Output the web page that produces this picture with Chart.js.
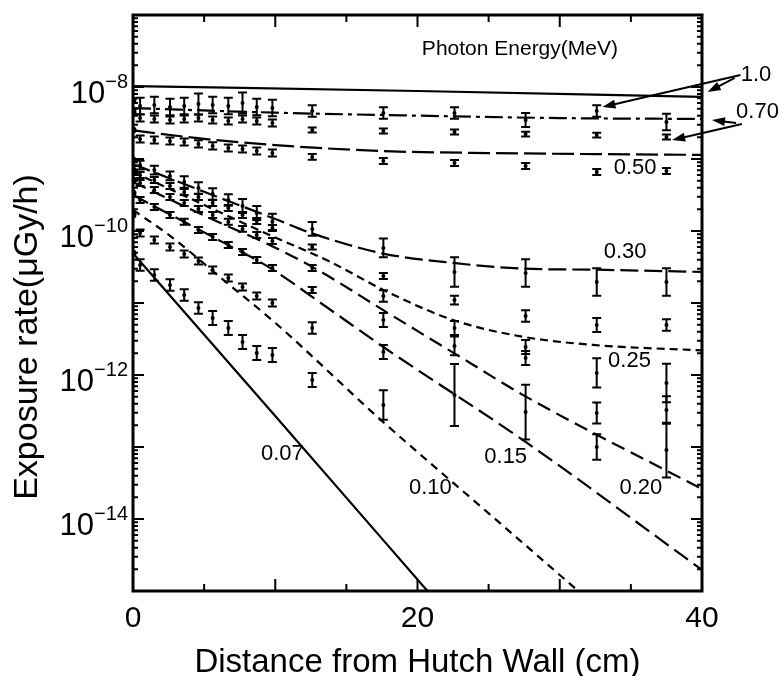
<!DOCTYPE html>
<html>
<head>
<meta charset="utf-8">
<script src="https://cdn.jsdelivr.net/npm/chart.js@4.4.1/dist/chart.umd.min.js"></script>
<style>
  html, body { margin: 0; padding: 0; background: #fff; }
  #wrap { width: 780px; height: 676px; }
</style>
</head>
<body>
<div id="wrap"><canvas id="chart" width="780" height="676"></canvas></div>
<script>
// calculated curves (distance cm / exposure rate uGy/h)
const calc100Dist = [0, 20, 40];
const calc100Rate = [1.03e-8, 8.8e-9, 7.3e-9];
const calc070Dist = [0, 10, 20, 30, 40];
const calc070Rate = [5.1e-9, 4.4e-9, 4.0e-9, 3.7e-9, 3.6e-9];
const calc050Dist = [0, 5, 10, 17.5, 25, 40];
const calc050Rate = [2.5e-9, 1.9e-9, 1.56e-9, 1.29e-9, 1.21e-9, 1.14e-9];
const calc030Dist = [0, 5, 10, 12.5, 17.5, 22.5, 27.5, 32.5, 40];
const calc030Rate = [8.5e-10, 3.5e-10, 1.47e-10, 9.4e-11, 4.9e-11, 3.6e-11, 3.0e-11, 2.9e-11, 2.7e-11];
const calc025Dist = [0, 5, 9.6, 13.9, 17.6, 22.5, 27.4, 32.5, 40];
const calc025Rate = [6.6e-10, 2.3e-10, 8.8e-11, 3.7e-11, 1.52e-11, 5.8e-12, 3.4e-12, 2.6e-12, 2.2e-12];
const calc020Dist = [0, 6, 9.6, 12.7, 17.9, 23.7, 27.4, 40];
const calc020Rate = [4.8e-10, 1.33e-10, 6.4e-11, 3.1e-11, 7.3e-12, 1.47e-12, 5.3e-13, 2.6e-14];
const calc015Dist = [0, 6.3, 9.6, 13.6, 17.6, 27.7, 40];
const calc015Rate = [3.16e-10, 7.0e-11, 3.1e-11, 8.8e-12, 2.45e-12, 1.14e-13, 1.96e-15];
const calc010Dist = [0, 2.7, 6.1, 10, 17.4, 25, 31.3];
const calc010Rate = [1.96e-10, 8.3e-11, 2.3e-11, 5.3e-12, 2.4e-13, 1.2e-14, 1e-15];
const calc007Dist = [0, 10, 20.7];
const calc007Rate = [4.9e-11, 2.7e-13, 1e-15];

// measured points: distance, rate, error factor (bar spans rate/f .. rate*f)
const measDist = [0, 0.5, 1.5, 2.6, 3.6, 4.6, 5.6, 6.7, 7.7, 8.7, 9.8, 12.6, 17.6, 22.6, 27.6, 32.6, 37.5];
const meas100Rate = [6.6e-9, 5.45e-9, 5.62e-9, 5.27e-9, 5.45e-9, 5.81e-9, 5.62e-9, 5.45e-9, 5.99e-9, 5.27e-9, 5.11e-9, 4.64e-9, 4.35e-9, 4.35e-9, 3.48e-9, 4.64e-9, 3.26e-9];
const meas100Err = [1, 1.3, 1.3, 1.3, 1.3, 1.4, 1.3, 1.3, 1.4, 1.3, 1.3, 1.2, 1.2, 1.2, 1.25, 1.2, 1.3];
const meas070Rate = [4.5e-9, 3.71e-9, 3.59e-9, 3.48e-9, 3.59e-9, 3.71e-9, 3.48e-9, 3.37e-9, 3.59e-9, 3.37e-9, 3.16e-9, 2.53e-9, 2.45e-9, 2.37e-9, 2.22e-9, 2.15e-9, 2.02e-9];
const meas070Err = [1, 1.12, 1.12, 1.12, 1.12, 1.12, 1.12, 1.12, 1.12, 1.12, 1.12, 1.08, 1.08, 1.08, 1.08, 1.08, 1.08];
const meas050Rate = [2.53e-9, 1.9e-9, 1.84e-9, 1.78e-9, 1.72e-9, 1.62e-9, 1.52e-9, 1.42e-9, 1.38e-9, 1.29e-9, 1.21e-9, 1.07e-9, 9.38e-10, 8.8e-10, 7.99e-10, 6.6e-10, 6.81e-10];
const meas050Err = [1, 1.12, 1.12, 1.12, 1.12, 1.12, 1.12, 1.12, 1.12, 1.12, 1.12, 1.1, 1.1, 1.1, 1.1, 1.1, 1.1];
const meas030Rate = [9.68e-10, 8.25e-10, 7.03e-10, 5.81e-10, 4.79e-10, 3.95e-10, 3.26e-10, 2.69e-10, 2.22e-10, 1.78e-10, 1.34e-10, 1.07e-10, 5.81e-11, 2.69e-11, 2.61e-11, 1.96e-11, 1.96e-11];
const meas030Err = [1, 1.15, 1.15, 1.15, 1.2, 1.2, 1.2, 1.2, 1.25, 1.25, 1.3, 1.25, 1.35, 1.6, 1.55, 1.55, 1.55];
const meas025Rate = [7.03e-10, 5.99e-10, 5.11e-10, 4.22e-10, 3.48e-10, 2.96e-10, 2.45e-10, 2.08e-10, 1.67e-10, 1.38e-10, 1.1e-10, 5.99e-11, 2.37e-11, 1.1e-11, 6.6e-12, 4.95e-12, 4.95e-12];
const meas025Err = [1, 1.1, 1.1, 1.1, 1.1, 1.1, 1.1, 1.1, 1.1, 1.1, 1.1, 1.08, 1.1, 1.15, 1.2, 1.25, 1.2];
const meas020Rate = [5.11e-10, 4.64e-10, 3.71e-10, 2.96e-10, 2.45e-10, 2.02e-10, 1.67e-10, 1.34e-10, 1.07e-10, 8.8e-11, 7.26e-11, 3.06e-11, 1.25e-11, 4.5e-12, 2.45e-12, 1.07e-12, 7.74e-13];
const meas020Err = [1, 1.1, 1.1, 1.1, 1.1, 1.1, 1.1, 1.1, 1.1, 1.1, 1.1, 1.1, 1.2, 1.25, 1.25, 1.6, 1.85];
const meas015Rate = [3.37e-10, 2.69e-10, 2.15e-10, 1.67e-10, 1.34e-10, 1.03e-10, 8.25e-11, 6.39e-11, 5.11e-11, 3.95e-11, 3.06e-11, 1.52e-11, 5.81e-12, 2.53e-12, 1.72e-12, 2.96e-13, 3.26e-13];
const meas015Err = [1, 1.1, 1.1, 1.1, 1.1, 1.1, 1.1, 1.1, 1.1, 1.1, 1.1, 1.1, 1.25, 1.35, 1.25, 1.4, 1.55];
const meas010Rate = [1.67e-10, 9.38e-11, 7.5e-11, 5.99e-11, 4.79e-11, 3.83e-11, 2.87e-11, 2.22e-11, 1.67e-11, 1.25e-11, 1.0e-11, 4.5e-12, 2.08e-12, 5.27e-13, 3.06e-13, 1.0e-13, 9.08e-14];
const meas010Err = [1, 1.12, 1.12, 1.12, 1.12, 1.12, 1.12, 1.12, 1.12, 1.12, 1.12, 1.2, 1.25, 2.7, 2.4, 1.5, 2.4];
const meas007Rate = [4.95e-11, 3.37e-11, 2.45e-11, 1.78e-11, 1.29e-11, 8.52e-12, 6.19e-12, 4.5e-12, 2.87e-12, 2.02e-12, 1.9e-12, 8.52e-13, 3.83e-13, null, null, null, null];
const meas007Err = [1, 1.2, 1.2, 1.2, 1.2, 1.2, 1.25, 1.25, 1.25, 1.25, 1.25, 1.25, 1.6, 1, 1, 1, 1];

// y tick labels (decades)
const yLabelExp = [-8, -10, -12, -14];

// annotations
const annoText = ['Photon Energy(MeV)', '1.0', '0.70', '0.50', '0.30', '0.25', '0.20', '0.15', '0.10', '0.07'];
const annoDist = [27.2, 43.8, 43.9, 35.3, 34.6, 34.9, 35.7, 26.2, 20.9, 10.5];
const annoRate = [3.37e-8, 1.47e-8, 4.5e-9, 7.5e-10, 5.11e-11, 1.57e-12, 2.69e-14, 7.26e-14, 2.69e-14, 7.99e-14];
const arrowTailDist = [42.7, 42.3, 42.8, 42.4];
const arrowTailRate = [1.47e-8, 1.34e-8, 3.06e-9, 3.16e-9];
const arrowTipDist = [33.0, 40.4, 37.9, 40.7];
const arrowTipRate = [5.27e-9, 8.52e-9, 1.84e-9, 3.48e-9];

const FONT = '"Liberation Sans", Arial, Helvetica, sans-serif';

function pts(xs, ys) {
    return xs.map((x, i) => ({ x: x, y: ys[i] }));
}

const calcSets = [
    [calc100Dist, calc100Rate, []],
    [calc070Dist, calc070Rate, [18, 5, 4, 5]],
    [calc050Dist, calc050Rate, [22, 6]],
    [calc030Dist, calc030Rate, [18, 6]],
    [calc025Dist, calc025Rate, [8, 5]],
    [calc020Dist, calc020Rate, [14, 7]],
    [calc015Dist, calc015Rate, [17, 7]],
    [calc010Dist, calc010Rate, [8, 6]],
    [calc007Dist, calc007Rate, []]
];
const measSets = [
    [meas100Rate, meas100Err], [meas070Rate, meas070Err], [meas050Rate, meas050Err],
    [meas030Rate, meas030Err], [meas025Rate, meas025Err], [meas020Rate, meas020Err],
    [meas015Rate, meas015Err], [meas010Rate, meas010Err], [meas007Rate, meas007Err]
];

const datasets = [];
calcSets.forEach(function (c) {
    datasets.push({
        data: pts(c[0], c[1]),
        showLine: true,
        borderColor: '#000',
        borderWidth: 2.2,
        borderDash: c[2],
        pointRadius: 0,
        cubicInterpolationMode: 'monotone'
    });
});
measSets.forEach(function (m) {
    datasets.push({
        data: pts(measDist, m[0]),
        errors: m[1],
        showLine: false,
        backgroundColor: '#000',
        borderColor: '#000',
        pointRadius: function (ctx) { return ctx.raw && ctx.raw.x === 0 ? 3.5 : 2; },
        pointBorderWidth: 0
    });
});

function arrow(ctx, x1, y1, x2, y2) {
    const ang = Math.atan2(y2 - y1, x2 - x1);
    ctx.beginPath();
    ctx.moveTo(x1, y1);
    ctx.lineTo(x2 - 8 * Math.cos(ang), y2 - 8 * Math.sin(ang));
    ctx.stroke();
    ctx.beginPath();
    ctx.moveTo(x2, y2);
    ctx.lineTo(x2 - 13 * Math.cos(ang) + 4.5 * Math.sin(ang), y2 - 13 * Math.sin(ang) - 4.5 * Math.cos(ang));
    ctx.lineTo(x2 - 13 * Math.cos(ang) - 4.5 * Math.sin(ang), y2 - 13 * Math.sin(ang) + 4.5 * Math.cos(ang));
    ctx.closePath();
    ctx.fill();
}

const paperPlugin = {
    id: 'paper',
    afterDatasetsDraw(chart) {
        const ctx = chart.ctx;
        const a = chart.chartArea;
        const x = chart.scales.x, y = chart.scales.y;
        ctx.save();
        ctx.strokeStyle = '#000';
        ctx.fillStyle = '#000';

        // error bars
        ctx.lineWidth = 2;
        chart.data.datasets.forEach(function (ds) {
            if (!ds.errors) return;
            ds.data.forEach(function (p, i) {
                const f = ds.errors[i];
                if (p.y == null || f <= 1) return;
                const px = x.getPixelForValue(p.x);
                const yt = y.getPixelForValue(p.y * f);
                const yb = y.getPixelForValue(p.y / f);
                ctx.beginPath();
                ctx.moveTo(px, yt); ctx.lineTo(px, yb);
                ctx.moveTo(px - 4.5, yt); ctx.lineTo(px + 4.5, yt);
                ctx.moveTo(px - 4.5, yb); ctx.lineTo(px + 4.5, yb);
                ctx.stroke();
            });
        });

        // frame
        ctx.lineWidth = 3;
        ctx.strokeRect(a.left, a.top, a.right - a.left, a.bottom - a.top);

        // ticks
        ctx.lineWidth = 2;
        ctx.beginPath();
        for (let v = 5; v < 40; v += 5) {
            const px = x.getPixelForValue(v);
            const len = v % 10 === 0 ? 12 : 7;
            ctx.moveTo(px, a.bottom); ctx.lineTo(px, a.bottom - len);
            ctx.moveTo(px, a.top); ctx.lineTo(px, a.top + len);
        }
        for (let e = -15; e < -7; e++) {
            for (let k = 1; k < 10; k++) {
                const py = y.getPixelForValue(k * Math.pow(10, e));
                const len = k === 1 ? 11 : 5;
                ctx.moveTo(a.left, py); ctx.lineTo(a.left + len, py);
                ctx.moveTo(a.right, py); ctx.lineTo(a.right - len, py);
            }
        }
        ctx.stroke();

        // y tick labels with superscript exponent
        ctx.textAlign = 'right';
        ctx.textBaseline = 'alphabetic';
        yLabelExp.forEach(function (e) {
            const py = y.getPixelForValue(Math.pow(10, e));
            const exp = '\u2212' + Math.abs(e);
            ctx.font = '20px ' + FONT;
            const w = ctx.measureText(exp).width;
            ctx.fillText(exp, a.left - 5, py + 1);
            ctx.font = '31px ' + FONT;
            ctx.fillText('10', a.left - 5 - w, py + 16);
        });

        // axis titles
        ctx.textAlign = 'center';
        ctx.font = '33px ' + FONT;
        ctx.fillText('Distance from Hutch Wall (cm)', (a.left + a.right) / 2, 672);
        ctx.save();
        ctx.translate(37, 337);
        ctx.rotate(-Math.PI / 2);
        ctx.font = '34px ' + FONT;
        ctx.fillText('Exposure rate(\u03bcGy/h)', 0, 0);
        ctx.restore();

        // energy labels
        ctx.textBaseline = 'middle';
        annoText.forEach(function (t, i) {
            ctx.font = (i === 0 ? '21px ' : '22px ') + FONT;
            ctx.fillText(t, x.getPixelForValue(annoDist[i]), y.getPixelForValue(annoRate[i]));
        });

        // arrows
        ctx.lineWidth = 2;
        arrowTipDist.forEach(function (d, i) {
            arrow(ctx,
                x.getPixelForValue(arrowTailDist[i]), y.getPixelForValue(arrowTailRate[i]),
                x.getPixelForValue(d), y.getPixelForValue(arrowTipRate[i]));
        });
        ctx.restore();
    }
};

new Chart(document.getElementById('chart').getContext('2d'), {
    type: 'scatter',
    data: { datasets: datasets },
    options: {
        responsive: false,
        animation: false,
        layout: { padding: { top: 15, right: 78, left: 0, bottom: 0 } },
        plugins: { legend: { display: false }, tooltip: { enabled: false } },
        scales: {
            x: {
                type: 'linear',
                min: 0,
                max: 40,
                grid: { display: false, drawTicks: false },
                border: { display: false },
                ticks: { stepSize: 20, color: '#000', padding: 10, maxRotation: 0, font: { size: 30, family: FONT } },
                afterFit: function (s) { s.height = 85; }
            },
            y: {
                type: 'logarithmic',
                min: 1e-15,
                max: 1e-7,
                grid: { display: false, drawTicks: false },
                border: { display: false },
                ticks: { display: false },
                afterFit: function (s) { s.width = 133; }
            }
        }
    },
    plugins: [paperPlugin]
});
</script>
</body>
</html>
